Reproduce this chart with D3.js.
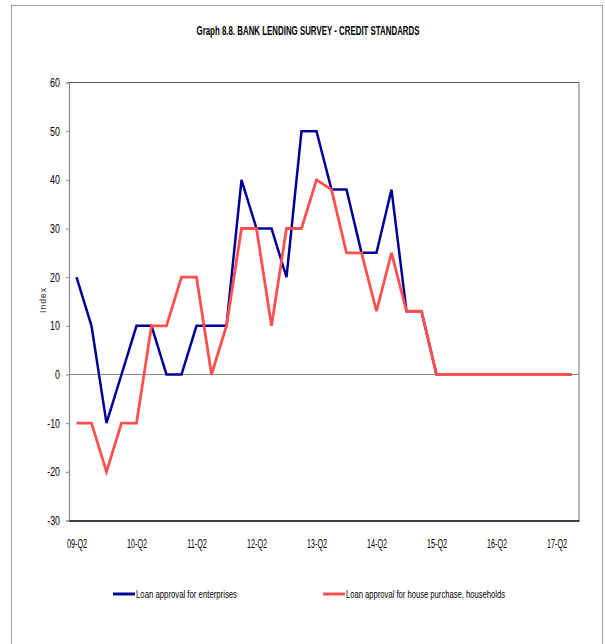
<!DOCTYPE html>
<html>
<head>
<meta charset="utf-8">
<script src="https://cdn.jsdelivr.net/npm/d3@7"></script>
<style>
  html, body { margin: 0; padding: 0; background: #fff; }
  svg { display: block; }
  text { font-family: "Liberation Sans", Arial, sans-serif; }
</style>
</head>
<body>
<svg id="chart" width="605" height="644"></svg>
<script>
const categories = [
  "09-Q2","09-Q3","09-Q4","10-Q1","10-Q2","10-Q3","10-Q4","11-Q1","11-Q2","11-Q3","11-Q4",
  "12-Q1","12-Q2","12-Q3","12-Q4","13-Q1","13-Q2","13-Q3","13-Q4","14-Q1","14-Q2","14-Q3",
  "14-Q4","15-Q1","15-Q2","15-Q3","15-Q4","16-Q1","16-Q2","16-Q3","16-Q4","17-Q1","17-Q2","17-Q3"
];
const enterprises = [20,10,-10,0,10,10,0,0,10,10,10,40,30,30,20,50,50,38,38,25,25,38,13,13,0,0,0,0,0,0,0,0,0,0];
const households = [-10,-10,-20,-10,-10,10,10,20,20,0,10,30,30,10,30,30,40,38,25,25,13,25,13,13,0,0,0,0,0,0,0,0,0,0];
const xTickLabels = ["09-Q2","10-Q2","11-Q2","12-Q2","13-Q2","14-Q2","15-Q2","16-Q2","17-Q2"];
const yTicks = [60,50,40,30,20,10,0,-10,-20,-30];
const seriesNames = ["Loan approval for enterprises","Loan approval for house purchase, households"];
const seriesColors = ["#000099","#FF5050"];

const svg = d3.select("#chart");

// squeeze text horizontally (narrow font look)
function squeeze(sel, ratio) {
  sel.each(function() {
    const w = this.getComputedTextLength();
    d3.select(this).attr("textLength", w * ratio).attr("lengthAdjust", "spacingAndGlyphs");
  });
}

// outer frame
svg.append("rect").attr("x", 11.5).attr("y", 5.5).attr("width", 591).attr("height", 650)
  .attr("fill", "none").attr("stroke", "#a0a0a0").attr("stroke-width", 1);

const L = 69, R = 579, T = 82.5, B = 520.5;

const x = d3.scalePoint().domain(categories).range([L, R]).padding(0.5);
const y = d3.scaleLinear().domain([-30, 60]).range([B, T]);

// title
svg.append("text")
  .attr("x", 308).attr("y", 35).attr("text-anchor", "middle")
  .attr("font-size", 12).attr("font-weight", "bold").attr("fill", "#000")
  .attr("textLength", 223).attr("lengthAdjust", "spacingAndGlyphs")
  .text("Graph 8.8. BANK LENDING SURVEY - CREDIT STANDARDS");

// plot box borders
svg.append("line").attr("x1", L).attr("x2", R).attr("y1", T).attr("y2", T)
  .attr("stroke", "#555").attr("stroke-width", 1.2);
svg.append("line").attr("x1", R).attr("x2", R).attr("y1", T).attr("y2", B)
  .attr("stroke", "#888").attr("stroke-width", 1.2);

// y axis
const yAxis = d3.axisLeft(y).tickValues(yTicks).tickSize(3).tickPadding(6)
  .tickFormat(d => String(d));
const gy = svg.append("g").attr("transform", `translate(${L},0)`).call(yAxis);
gy.select(".domain").attr("stroke", "#888").attr("stroke-width", 1.2);
gy.selectAll(".tick line").attr("stroke", "#888");
gy.selectAll(".tick text").attr("font-family", "Liberation Sans, Arial, sans-serif")
  .attr("font-size", 12).attr("fill", "#000").call(squeeze, 0.74);

// zero line
svg.append("line").attr("x1", L).attr("x2", R).attr("y1", y(0)).attr("y2", y(0))
  .attr("stroke", "#888").attr("stroke-width", 1.2);

// x axis
const xAxis = d3.axisBottom(x).tickValues(xTickLabels).tickSize(0).tickPadding(19);
const gx = svg.append("g").attr("transform", `translate(0,${B})`).call(xAxis);
gx.select(".domain").attr("stroke", "#000").attr("stroke-width", 1.5);
gx.selectAll(".tick text").attr("font-family", "Liberation Sans, Arial, sans-serif")
  .attr("font-size", 12).attr("fill", "#000").call(squeeze, 0.6);

// y label
svg.append("text").attr("transform", "translate(46,300) rotate(-90)")
  .attr("text-anchor", "middle").attr("font-family", "DejaVu Sans, sans-serif")
  .attr("font-size", 8.5).attr("letter-spacing", 1).attr("fill", "#333").text("Index");

// lines
const line = d3.line().x((d, i) => x(categories[i])).y(d => y(d));
svg.append("path").datum(enterprises).attr("d", line)
  .attr("fill", "none").attr("stroke", seriesColors[0]).attr("stroke-width", 2.5).attr("stroke-linejoin", "miter");
svg.append("path").datum(households).attr("d", line)
  .attr("fill", "none").attr("stroke", seriesColors[1]).attr("stroke-width", 2.8).attr("stroke-linejoin", "miter");

// legend
const legendX = [113, 323];
const legendW = [101, 159];
seriesNames.forEach((name, i) => {
  svg.append("line").attr("x1", legendX[i]).attr("x2", legendX[i] + 22).attr("y1", 594).attr("y2", 594)
    .attr("stroke", seriesColors[i]).attr("stroke-width", 3);
  svg.append("text").attr("x", legendX[i] + 23).attr("y", 598)
    .attr("font-size", 11.5).attr("fill", "#000")
    .attr("textLength", legendW[i]).attr("lengthAdjust", "spacingAndGlyphs").text(name);
});
</script>
</body>
</html>
